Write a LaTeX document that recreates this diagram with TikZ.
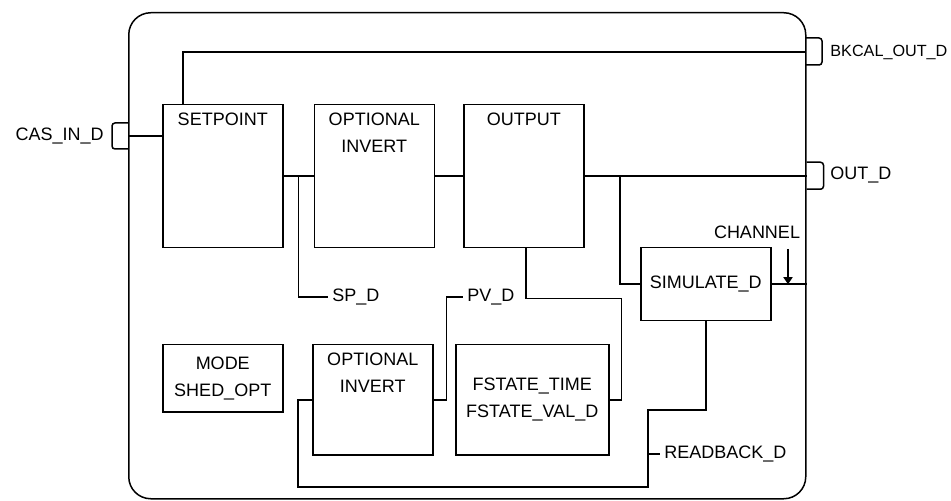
\documentclass[tikz,border=0pt]{standalone}
\usepackage{fontspec}
\setmainfont{Liberation Sans}
\usepackage{tikz}
\usetikzlibrary{arrows.meta,positioning,calc}

\begin{document}
\begin{tikzpicture}[
  x=0.5pt, y=-0.5pt,
  font=\fontsize{9}{13.5}\selectfont,
  wire/.style={line width=0.75pt},
  box/.style={draw, line width=0.75pt, minimum width=60pt, minimum height=71.5pt, inner sep=0pt, align=center},
  ttl/.style={anchor=north, inner sep=0pt, yshift=-4.5pt, align=center},
  lbl/.style={inner sep=2pt},
  port/.style={line width=0.75pt, rounded corners=1.5pt},
  arr/.style={-{Triangle[length=3.5pt,width=4.5pt]}, line width=0.75pt}
]
\useasboundingbox (0,0) rectangle (951,501);
\node[draw, wire, rounded corners=11pt, minimum width=338.5pt, minimum height=243pt, anchor=north west] (blk) at (128,12) {};
\node[box, anchor=north west, label={[ttl]north:SETPOINT}] (sp) at (162,104) {};
\node[box, right=15pt of sp, label={[ttl]north:OPTIONAL\\INVERT}] (inv1) {};
\node[box, right=14pt of inv1, label={[ttl]north:OUTPUT}] (out) {};
\node[box, anchor=north west, minimum height=33.5pt] (mode) at (162,344) {MODE\\SHED\_OPT};
\node[box, anchor=north west, minimum height=55pt, label={[ttl]north:OPTIONAL\\INVERT}] (inv2) at (312,344) {};
\node[box, anchor=north west, minimum width=76.5pt, minimum height=55pt] (fst) at (455,344) {FSTATE\_TIME\\FSTATE\_VAL\_D};
\node[box, anchor=north west, minimum width=65pt, minimum height=36.5pt] (sim) at (640,247) {SIMULATE\_D};

\coordinate (pcas) at (128,136);
\coordinate (pbk) at (805,52);
\coordinate (pout) at (out.east -| blk.east);
\node[lbl, anchor=east] (casin) at (108,136) {CAS\_IN\_D};
\node[lbl, anchor=west, font=\fontsize{8.1}{10}\selectfont] (bkcal) at (826,52) {BKCAL\_OUT\_D};
\node[lbl, anchor=west] (outd) at (826,175.5) {OUT\_D};
\node[lbl, anchor=west] (spd) at (328,297) {SP\_D};
\node[lbl, anchor=west] (pvd) at (463,297) {PV\_D};
\node[lbl] (chan) at (757,232) {CHANNEL};
\node[lbl, anchor=west] (rbd) at (660,454) {READBACK\_D};

\draw[port] (pcas) ++(0,-13) -- ++(-16,0) -- ++(0,26) -- ++(16,0);
\draw[port] (pbk) ++(0,-14) -- ++(17,0) -- ++(0,27) -- ++(-17,0);
\draw[port] (pout) ++(0,-14) -- ++(17,0) -- ++(0,27) -- ++(-17,0);

\draw[wire] (pcas) -- (pcas -| sp.west);
\draw[wire] ([xshift=10.5pt]sp.north west) |- (pbk);
\draw[wire] (sp) -- (inv1);
\coordinate (j1) at ($(sp.east)!0.5!(inv1.west)$);
\draw[wire] (j1) |- (spd.west);
\draw[wire] (inv1) -- (out);
\draw[wire] (out.east) -- (pout);
\draw[wire] ([xshift=-10pt]out.east -| sim.west) |- (sim.west);
\draw[wire] (sim.east) -- (sim.east -| blk.east);
\draw[arr] ([xshift=15.5pt,yshift=-3pt]chan.south) -- ([xshift=15.5pt]chan.south |- sim.east);
\draw[wire] ([xshift=1pt]out.south) -- ++(0,50) -| ([xshift=6pt]fst.east) -- (fst.east);
\draw[wire] (inv2.east) -- ++(6.5pt,0) |- (pvd.west);
\coordinate (rb0) at (648,454);
\coordinate (rb1) at (648,487);
\coordinate (rb2) at (648,410);
\draw[wire] (inv2.west) -- ++(-7pt,0) |- (rb1) -- (rb2) -| (sim.south);
\draw[wire] (rb0) -- (rbd.west);
\end{tikzpicture}
\end{document}
